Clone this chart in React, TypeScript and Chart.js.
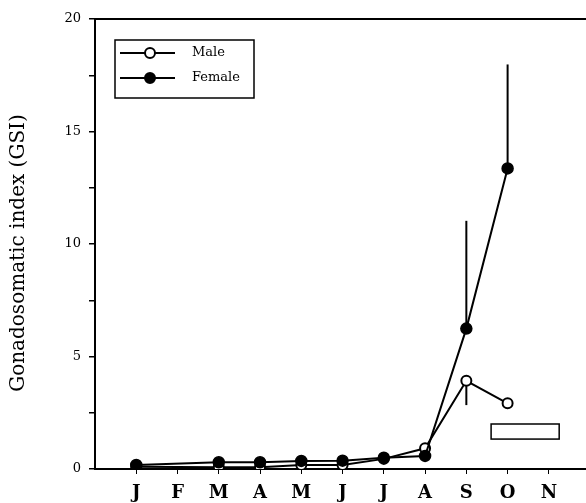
import React, { useEffect, useRef } from "react";
import { Chart, registerables } from "chart.js";

Chart.register(...registerables);

// ---- data ----
const monthLabels = ["J", "F", "M", "A", "M", "J", "J", "A", "S", "O", "N"];
const sampleMonths = [1, 3, 4, 5, 6, 7, 8, 9, 10];
const maleGSI = [0.1, 0.08, 0.08, 0.18, 0.18, 0.45, 0.92, 3.92, 2.92];
const femaleGSI = [0.18, 0.3, 0.3, 0.36, 0.37, 0.5, 0.58, 6.24, 13.36];
const maleErrLow: (number | null)[] = [null, null, null, null, null, null, null, 2.84, null];
const femaleErrHigh: (number | null)[] = [null, null, null, null, null, null, null, 11.03, 17.98];
const spawnMonths = [9.6, 11.25];
const spawnGSI = [1.33, 2.0];
const yMax = 20;
const yStep = 2.5;
const yTitle = "Gonadosomatic index (GSI)";

const FONT = "'DejaVu Serif', 'Liberation Serif', serif";

const extrasPlugin = {
  id: "extras",
  beforeDatasetsDraw(chart: any) {
    const { ctx, scales } = chart;
    const xs = scales.x;
    const ys = scales.y;
    ctx.save();
    ctx.strokeStyle = "#000";
    ctx.lineWidth = 2;
    sampleMonths.forEach((m, i) => {
      const px = xs.getPixelForValue(m);
      if (femaleErrHigh[i] != null) {
        ctx.beginPath();
        ctx.moveTo(px, ys.getPixelForValue(femaleGSI[i]));
        ctx.lineTo(px, ys.getPixelForValue(femaleErrHigh[i] as number));
        ctx.stroke();
      }
      if (maleErrLow[i] != null) {
        ctx.beginPath();
        ctx.moveTo(px, ys.getPixelForValue(maleGSI[i]));
        ctx.lineTo(px, ys.getPixelForValue(maleErrLow[i] as number));
        ctx.stroke();
      }
    });
    ctx.restore();
  },
  afterDraw(chart: any) {
    const { ctx, scales, chartArea } = chart;
    const xs = scales.x;
    const ys = scales.y;
    ctx.save();
    // top frame line
    ctx.strokeStyle = "#000";
    ctx.lineWidth = 2;
    ctx.beginPath();
    ctx.moveTo(chartArea.left - 1, chartArea.top);
    ctx.lineTo(chartArea.right, chartArea.top);
    ctx.stroke();

    // y-axis title
    ctx.save();
    ctx.translate(19, (chartArea.top + chartArea.bottom) / 2 + 9);
    ctx.rotate(-Math.PI / 2);
    ctx.fillStyle = "#000";
    ctx.font = `20px ${FONT}`;
    ctx.textAlign = "center";
    ctx.textBaseline = "middle";
    ctx.fillText(yTitle, 0, 0);
    ctx.restore();

    // spawning bar
    const x0 = xs.getPixelForValue(spawnMonths[0]);
    const x1 = xs.getPixelForValue(spawnMonths[1]);
    const y0 = ys.getPixelForValue(spawnGSI[1]);
    const y1 = ys.getPixelForValue(spawnGSI[0]);
    ctx.fillStyle = "#fff";
    ctx.fillRect(x0, y0, x1 - x0, y1 - y0);
    ctx.lineWidth = 1.5;
    ctx.strokeRect(x0, y0, x1 - x0, y1 - y0);

    // legend
    const lx = chartArea.left + 20;
    const ly = chartArea.top + 21;
    const lw = 139;
    const lh = 58;
    ctx.lineWidth = 1.5;
    ctx.strokeRect(lx, ly, lw, lh);
    const rows = [
      { label: "Male", fill: "#fff", y: ly + 13 },
      { label: "Female", fill: "#000", y: ly + 38 },
    ];
    rows.forEach((r) => {
      ctx.lineWidth = 2;
      ctx.beginPath();
      ctx.moveTo(lx + 5, r.y);
      ctx.lineTo(lx + 60, r.y);
      ctx.stroke();
      ctx.beginPath();
      ctx.arc(lx + 35, r.y, 5, 0, Math.PI * 2);
      ctx.fillStyle = r.fill;
      ctx.fill();
      ctx.stroke();
      ctx.fillStyle = "#000";
      ctx.font = `13px ${FONT}`;
      ctx.textBaseline = "middle";
      ctx.textAlign = "left";
      ctx.fillText(r.label, lx + 77, r.y);
    });
    ctx.restore();
  },
};

export default function App() {
  const ref = useRef<HTMLCanvasElement>(null);
  useEffect(() => {
    if (!ref.current) return;
    Chart.defaults.color = "#000";
    const chart = new Chart(ref.current, {
      type: "line",
      data: {
        datasets: [
          {
            label: "Female",
            data: sampleMonths.map((m, i) => ({ x: m, y: femaleGSI[i] })),
            borderColor: "#000",
            backgroundColor: "#000",
            borderWidth: 2,
            pointRadius: 5.5,
            pointBorderWidth: 1.5,
            pointBackgroundColor: "#000",
            pointBorderColor: "#000",
            tension: 0,
          },
          {
            label: "Male",
            data: sampleMonths.map((m, i) => ({ x: m, y: maleGSI[i] })),
            borderColor: "#000",
            backgroundColor: "#fff",
            borderWidth: 2,
            pointRadius: 5,
            pointBorderWidth: 2,
            pointBackgroundColor: "#fff",
            pointBorderColor: "#000",
            tension: 0,
          },
        ],
      },
      options: {
        responsive: false,
        animation: false,
        devicePixelRatio: 1,
        layout: { autoPadding: false, padding: { top: 19, left: 0, right: 0, bottom: 0 } },
        plugins: { legend: { display: false }, tooltip: { enabled: false } },
        scales: {
          x: {
            type: "linear",
            min: 0,
            max: 11.9,
            afterBuildTicks: (scale: any) => {
              scale.ticks = monthLabels.map((_, i) => ({ value: i + 1 }));
            },
            afterFit: (scale: any) => {
              scale.height = 34;
              scale.paddingLeft = 0;
              scale.paddingRight = 0;
            },
            ticks: {
              autoSkip: false,
              maxRotation: 0,
              padding: 9,
              font: { family: FONT, size: 18, weight: "bold" },
              callback: (_v: any, i: number) => monthLabels[i],
            },
            grid: {
              drawOnChartArea: false,
              drawTicks: true,
              tickLength: 5,
              color: "#000",
              lineWidth: 1,
            },
            border: { display: true, color: "#000", width: 2 },
          },
          y: {
            type: "linear",
            min: 0,
            max: yMax,
            afterFit: (scale: any) => {
              scale.width = 95;
            },
            ticks: {
              stepSize: yStep,
              padding: 8,
              font: { family: FONT, size: 13 },
              callback: (v: any) => (Number(v) % 5 === 0 ? String(v) : ""),
            },
            grid: {
              drawOnChartArea: false,
              drawTicks: true,
              tickLength: 6,
              color: "#000",
              lineWidth: 1.5,
            },
            border: { display: true, color: "#000", width: 2 },
            title: { display: false },
          },
        },
      },
      plugins: [extrasPlugin],
    } as any);
    return () => chart.destroy();
  }, []);
  return (
    <div style={{ position: "absolute", left: 0, top: 0, width: 586, height: 503, background: "#fff" }}>
      <canvas ref={ref} width={586} height={503} />
    </div>
  );
}
